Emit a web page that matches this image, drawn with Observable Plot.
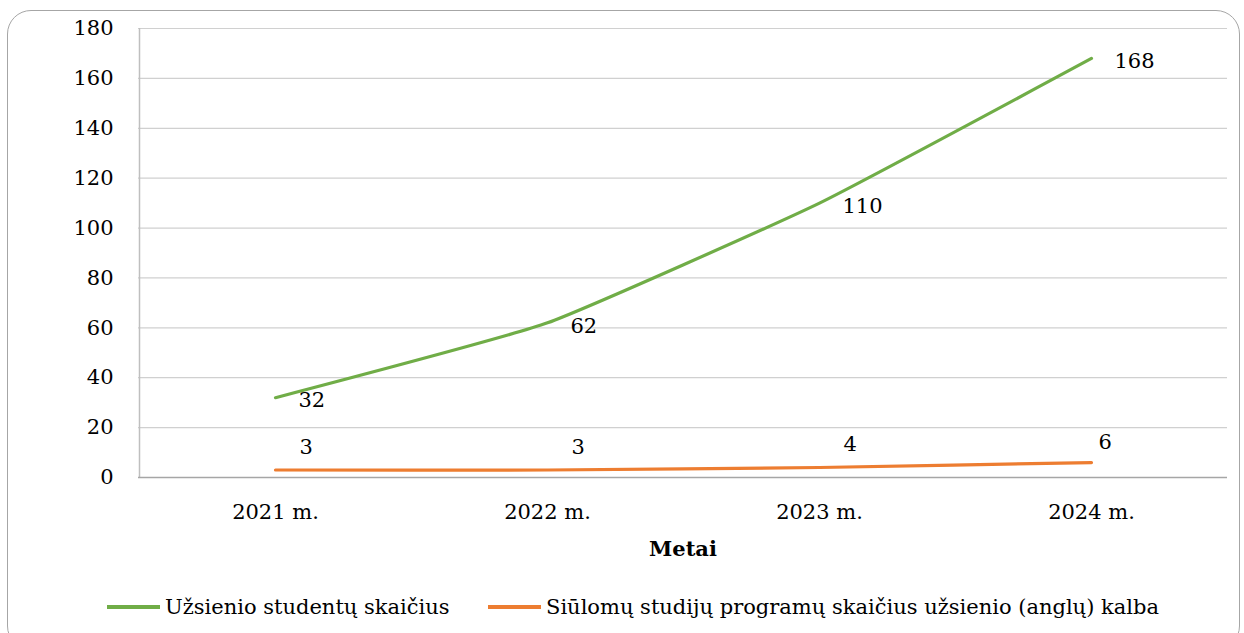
<!DOCTYPE html>
<html><head><meta charset="utf-8">
<script src="https://cdn.jsdelivr.net/npm/d3@7"></script>
<script src="https://cdn.jsdelivr.net/npm/@observablehq/plot@0.6"></script>
<style>
body{margin:0;background:#fff;font-family:"DejaVu Serif",serif;width:1244px;height:633px;overflow:hidden;position:relative;}
#frame{position:absolute;left:7px;top:10px;width:1233px;height:640px;border:1.5px solid #a6a6a6;border-radius:24px;box-sizing:border-box;}
#chart{position:absolute;left:0;top:0;}
#legend{position:absolute;top:590px;left:0;width:1244px;height:34px;font-size:21px;color:#000;}
.item{position:absolute;top:0;display:flex;align-items:center;height:34px;}
.sw{display:inline-block;height:4px;margin-right:5px;}
svg text{font-family:"DejaVu Serif",serif;}
</style></head><body>
<div id="frame"></div>
<div id="chart"></div>
<div id="legend"></div>
<script>
const years = ["2021 m.", "2022 m.", "2023 m.", "2024 m."];
const students = [32, 62, 110, 168];
const programs = [3, 3, 4, 6];
const yTicks = [0, 20, 40, 60, 80, 100, 120, 140, 160, 180];
const seriesNames = ["Užsienio studentų skaičius", "Siūlomų studijų programų skaičius užsienio (anglų) kalba"];
const seriesColors = ["#70AD47", "#ED7D31"];
const xTitle = "Metai";

const studentsData = years.map((y, i) => ({year: y, value: students[i]}));
const programsData = years.map((y, i) => ({year: y, value: programs[i]}));
const fs = 21;

const chart = Plot.plot({
  width: 1244,
  height: 565,
  marginLeft: 138,
  marginRight: 17,
  marginTop: 28,
  marginBottom: 88,
  style: {fontSize: fs + "px", color: "#000", background: "transparent"},
  x: {type: "point", domain: years, padding: 0.5},
  y: {domain: [0, 180]},
  marks: [
    Plot.gridY(yTicks, {stroke: "#d0d0d0", strokeOpacity: 1, strokeWidth: 1.2}),
    Plot.ruleX([years[0]], {dx: -136, stroke: "#bfbfbf", strokeWidth: 1.5, y1: 0, y2: 180}),
    Plot.ruleY([0], {stroke: "#a6a6a6", strokeWidth: 1.5}),
    Plot.axisY({ticks: yTicks, tickSize: 0, tickPadding: 25, fontSize: fs, label: null}),
    Plot.axisX({tickSize: 0, tickPadding: 27, fontSize: fs, label: xTitle, labelAnchor: "center", labelArrow: "none", labelOffset: 78}),
    Plot.line(studentsData, {x: "year", y: "value", stroke: seriesColors[0], strokeWidth: 3.2, curve: "cardinal", tension: 0.6}),
    Plot.line(programsData, {x: "year", y: "value", stroke: seriesColors[1], strokeWidth: 3.2, curve: "cardinal", tension: 0.6}),
    Plot.text(studentsData, {x: "year", y: "value", text: d => String(d.value), textAnchor: "start", dx: 23, dy: 3, fontSize: fs, fill: "#000"}),
    Plot.text(programsData.slice(0, 3), {x: "year", y: "value", text: d => String(d.value), textAnchor: "start", dx: 24, dy: -23, fontSize: fs, fill: "#000"}),
    Plot.text(programsData.slice(3), {x: "year", y: "value", text: d => String(d.value), textAnchor: "start", dx: 7, dy: -20, fontSize: fs, fill: "#000"})
  ]
});
chart.querySelectorAll("g[aria-label='x-axis label'] text").forEach(t => t.setAttribute("font-weight", "bold"));
document.getElementById("chart").appendChild(chart);

const legend = document.getElementById("legend");
const lefts = [[107, 53], [488, 53]];
seriesNames.forEach((name, i) => {
  const item = document.createElement("div");
  item.className = "item";
  item.style.left = lefts[i][0] + "px";
  const sw = document.createElement("span");
  sw.className = "sw";
  sw.style.width = lefts[i][1] + "px";
  sw.style.background = seriesColors[i];
  const tx = document.createElement("span");
  tx.textContent = name;
  item.appendChild(sw);
  item.appendChild(tx);
  legend.appendChild(item);
});
</script>
</body></html>
